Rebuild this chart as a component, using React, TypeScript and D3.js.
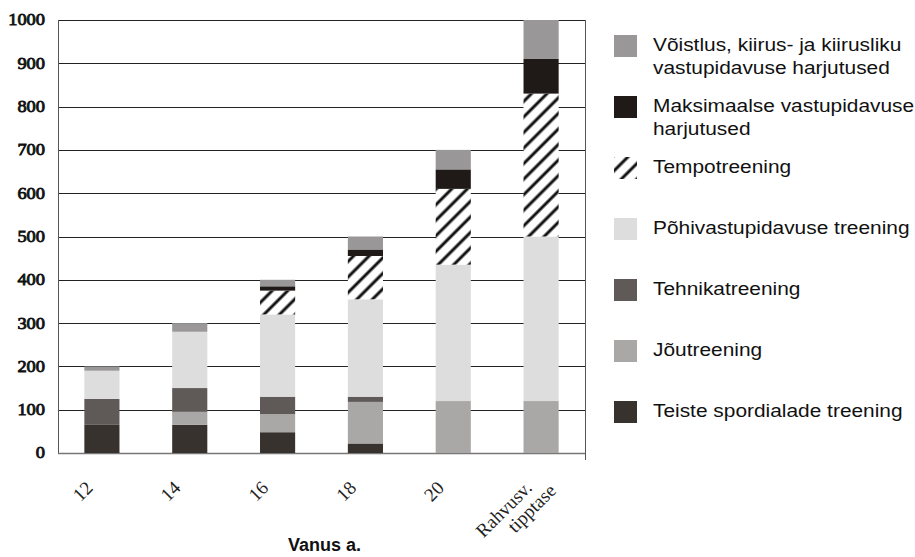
import React, { useRef, useEffect } from "react";
import * as d3 from "d3";

// age groups on the x axis
const categories = ["12", "14", "16", "18", "20", "Rahvusv.|tipptase"];

// training volume (h) per type, bottom of the stack first
const teiste = [65, 65, 48, 22, 0, 0];
const jou = [0, 30, 42, 96, 120, 120];
const tehnika = [60, 55, 40, 12, 0, 0];
const pohi = [65, 130, 190, 225, 315, 380];
const tempo = [0, 0, 55, 100, 175, 330];
const maks = [0, 0, 10, 15, 45, 80];
const voistlus = [10, 20, 15, 30, 45, 90];

const keys = ["teiste", "jou", "tehnika", "pohi", "tempo", "maks", "voistlus"];
const colors: Record<string, string> = {
  teiste: "#38322f",
  jou: "#a9a8a7",
  tehnika: "#5f5a58",
  pohi: "#dddddd",
  tempo: "url(#hatch)",
  maks: "#1f1a17",
  voistlus: "#999797",
};

// legend, top to bottom
const legendKeys = ["voistlus", "maks", "tempo", "pohi", "tehnika", "jou", "teiste"];
const legendLabels = [
  ["Võistlus, kiirus- ja kiirusliku", "vastupidavuse harjutused"],
  ["Maksimaalse vastupidavuse", "harjutused"],
  ["Tempotreening"],
  ["Põhivastupidavuse treening"],
  ["Tehnikatreening"],
  ["Jõutreening"],
  ["Teiste spordialade treening"],
];

const yTicks = [0, 100, 200, 300, 400, 500, 600, 700, 800, 900, 1000];
const xTitle = "Vanus a.";

const serif = "'Liberation Serif', 'Times New Roman', Times, serif";
const sans = "'Liberation Sans', Arial, Helvetica, sans-serif";

type Row = { [key: string]: number | string };

function StackedChart({ width, height }: { width: number; height: number }) {
  const svgRef = useRef<SVGSVGElement>(null);

  useEffect(() => {
    if (!svgRef.current) {
      return;
    }
    const svg = d3.select(svgRef.current);
    svg.selectAll("*").remove();

    const margin = { top: 20, left: 58, right: 585, bottom: 453 };

    const rows: Row[] = categories.map((c, i) => ({
      cat: c,
      teiste: teiste[i],
      jou: jou[i],
      tehnika: tehnika[i],
      pohi: pohi[i],
      tempo: tempo[i],
      maks: maks[i],
      voistlus: voistlus[i],
    }));

    const x = d3
      .scaleBand()
      .domain(categories)
      .range([margin.left, margin.right])
      .paddingInner(0.6)
      .paddingOuter(0.3);

    const y = d3.scaleLinear().domain([0, 1000]).range([margin.bottom, margin.top]);

    const defs = svg.append("defs");
    const pat = defs
      .append("pattern")
      .attr("id", "hatch")
      .attr("patternUnits", "userSpaceOnUse")
      .attr("width", 11)
      .attr("height", 11)
      .attr("patternTransform", "rotate(45)");
    pat.append("rect").attr("width", 11).attr("height", 11).attr("fill", "#fff");
    pat
      .append("line")
      .attr("x1", 2)
      .attr("x2", 2)
      .attr("y1", 0)
      .attr("y2", 11)
      .attr("stroke", "#111")
      .attr("stroke-width", 3);

    // grid
    svg
      .append("g")
      .selectAll("line")
      .data(yTicks.filter((t) => t > 0))
      .join("line")
      .attr("x1", margin.left)
      .attr("x2", margin.right)
      .attr("y1", (d) => Math.round(y(d)) + 0.5)
      .attr("y2", (d) => Math.round(y(d)) + 0.5)
      .attr("stroke", "#222")
      .attr("stroke-width", 1);

    // axis frame
    svg
      .append("line")
      .attr("x1", margin.left + 0.5)
      .attr("x2", margin.left + 0.5)
      .attr("y1", y(1000))
      .attr("y2", y(0))
      .attr("stroke", "#555");
    svg
      .append("line")
      .attr("x1", margin.right + 0.5)
      .attr("x2", margin.right + 0.5)
      .attr("y1", y(1000))
      .attr("y2", y(0) + 7)
      .attr("stroke", "#555");
    svg
      .append("line")
      .attr("x1", margin.left)
      .attr("x2", margin.right)
      .attr("y1", y(0) + 0.5)
      .attr("y2", y(0) + 0.5)
      .attr("stroke", "#777")
      .attr("stroke-width", 1.5);

    const stacked = d3.stack<Row>().keys(keys)(rows);

    svg
      .append("g")
      .selectAll("g")
      .data(stacked)
      .join("g")
      .attr("fill", (s) => colors[s.key])
      .selectAll("rect")
      .data((s) => s)
      .join("rect")
      .attr("x", (d) => x(d.data.cat as string)!)
      .attr("width", x.bandwidth())
      .attr("y", (d) => y(d[1]))
      .attr("height", (d) => y(d[0]) - y(d[1]));

    // y labels: serif, thickened with a stroke, slightly wide like the original
    svg
      .append("g")
      .selectAll("text")
      .data(yTicks)
      .join("text")
      .attr("transform", (d) => `translate(45,${y(d)}) scale(1.15,1)`)
      .attr("dy", "0.34em")
      .attr("text-anchor", "end")
      .style("font-family", serif)
      .style("font-size", "16px")
      .attr("fill", "#111")
      .attr("stroke", "#111")
      .attr("stroke-width", 0.8)
      .text((d) => d);

    // x labels, rotated
    const xl = svg
      .append("g")
      .selectAll("text")
      .data(categories)
      .join("text")
      .attr("transform", (d) => {
        const cx = x(d)! + x.bandwidth() / 2;
        return `translate(${cx - 8},${489}) rotate(-45)`;
      })
      .attr("text-anchor", "end")
      .style("font-family", serif)
      .style("font-size", "19px")
      .attr("fill", "#222");
    xl.each(function (d) {
      const lines = d.split("|");
      const t = d3.select(this);
      lines.forEach((ln, i) => {
        t.append("tspan")
          .attr("x", i * 15)
          .attr("dy", i === 0 ? 0 : "1.0em")
          .text(ln);
      });
    });

    svg
      .append("text")
      .attr("x", (margin.left + margin.right) / 2 + 3)
      .attr("y", 551)
      .attr("text-anchor", "middle")
      .style("font-family", sans)
      .style("font-weight", "700")
      .style("font-size", "18px")
      .attr("fill", "#111")
      .text(xTitle);

    // legend
    const lg = svg
      .append("g")
      .selectAll("g")
      .data(legendKeys)
      .join("g")
      .attr("transform", (_, i) => `translate(614,${46 + i * 61})`);
    lg.append("rect")
      .attr("x", 0)
      .attr("y", -11)
      .attr("width", 23)
      .attr("height", 22)
      .attr("fill", (k) => colors[k]);
    lg.each(function (_, i) {
      const t = d3
        .select(this)
        .append("text")
        .style("font-family", sans)
        .style("font-size", "18.5px")
        .attr("fill", "#111")
        .attr("transform", "scale(1.13,1)");
      legendLabels[i].forEach((ln, j) => {
        t.append("tspan")
          .attr("x", 39 / 1.13)
          .attr("y", -2 + j * 23.5)
          .attr("dy", "0.36em")
          .text(ln);
      });
    });
  }, [width, height]);

  return (
    <svg
      ref={svgRef}
      width={width}
      height={height}
      style={{ position: "absolute", left: 0, top: 0, background: "#fff" }}
    />
  );
}

export default function App() {
  return <StackedChart width={915} height={557} />;
}
